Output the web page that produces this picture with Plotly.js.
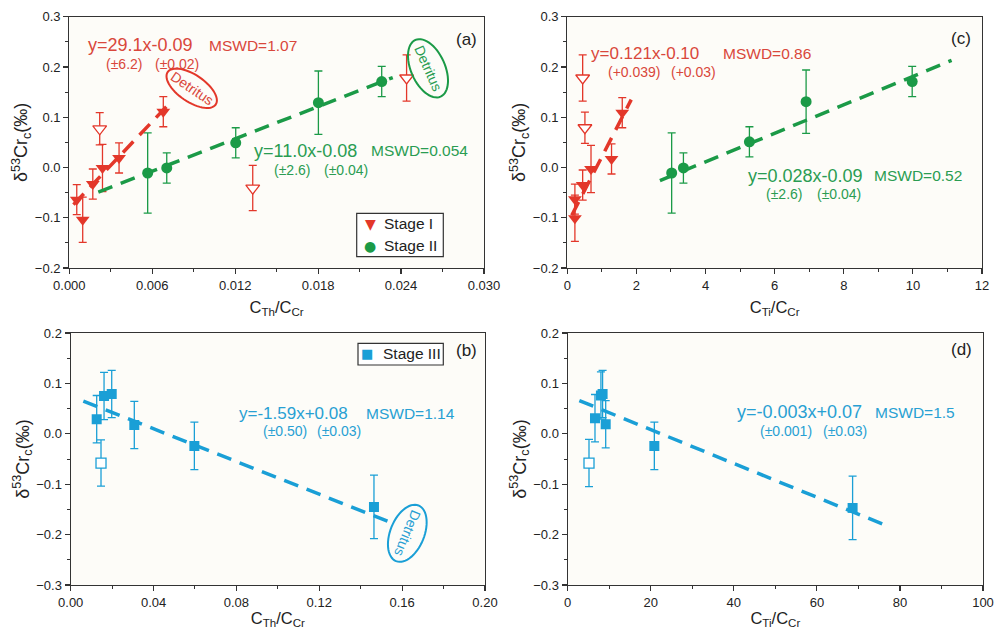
<!DOCTYPE html>
<html>
<head>
<meta charset="utf-8">
<script src="https://cdn.plot.ly/plotly-3.0.1.min.js"></script>
<style>html,body{margin:0;padding:0;background:#fff;}#chart{width:994px;height:629px;}</style>
</head>
<body>
<div id="chart"></div>
<script>
// ---------------- DATA ----------------
// Panel (a): C_Th/C_Cr vs d53Cr
const aStageI_x   = [0.00054, 0.00097, 0.0017, 0.0024, 0.0036, 0.0068];
const aStageI_y   = [-0.064, -0.104, -0.033, -0.001, 0.019, 0.111];
const aStageI_err = [0.030, 0.045, 0.030, 0.047, 0.030, 0.030];
const aStageIopen_x   = [0.0022, 0.01327, 0.0244];
const aStageIopen_y   = [0.077, -0.041, 0.178];
const aStageIopen_err = [0.032, 0.045, 0.046];
const aStageII_x   = [0.00567, 0.00705, 0.01204, 0.01802, 0.0226];
const aStageII_y   = [-0.011, -0.001, 0.049, 0.129, 0.171];
const aStageII_err = [0.080, 0.030, 0.030, 0.063, 0.030];
const aFitI_x  = [0.0003, 0.0073];   const aFitI_y  = [-0.074, 0.129];
const aFitII_x = [0.0021, 0.0234];   const aFitII_y = [-0.049, 0.179];

// Panel (c): C_Ti/C_Cr vs d53Cr
const cStageI_x   = [0.22, 0.22, 0.445, 0.686, 1.28, 1.59];
const cStageI_y   = [-0.101, -0.063, -0.035, -0.003, 0.017, 0.109];
const cStageI_err = [0.046, 0.030, 0.030, 0.047, 0.030, 0.030];
const cStageIopen_x   = [0.445, 0.51];
const cStageIopen_y   = [0.178, 0.079];
const cStageIopen_err = [0.046, 0.031];
const cStageII_x   = [3.02, 3.36, 5.27, 6.91, 9.98];
const cStageII_y   = [-0.011, -0.001, 0.051, 0.131, 0.171];
const cStageII_err = [0.080, 0.030, 0.030, 0.063, 0.030];
const cFitI_x  = [0.13, 1.85];   const cFitI_y  = [-0.095, 0.135];
const cFitII_x = [2.68, 11.12];  const cFitII_y = [-0.026, 0.213];

// Panel (b): C_Th/C_Cr, Stage III
const bStageIII_x   = [0.01255, 0.0161, 0.0198, 0.0307, 0.0597, 0.1464];
const bStageIII_y   = [0.029, 0.075, 0.079, 0.0175, -0.024, -0.145];
const bStageIII_err = [0.047, 0.047, 0.047, 0.047, 0.047, 0.063];
const bStageIIIopen_x = [0.01463]; const bStageIIIopen_y = [-0.058]; const bStageIIIopen_err = [0.046];
const bFit_x = [0.0061, 0.1533]; const bFit_y = [0.065, -0.174];

// Panel (d): C_Ti/C_Cr, Stage III
const dStageIII_x   = [6.57, 8.0, 8.4, 9.15, 20.86, 68.6];
const dStageIII_y   = [0.031, 0.076, 0.079, 0.019, -0.024, -0.147];
const dStageIII_err = [0.047, 0.047, 0.047, 0.047, 0.047, 0.063];
const dStageIIIopen_x = [5.13]; const dStageIIIopen_y = [-0.058]; const dStageIIIopen_err = [0.047];
const dFit_x = [2.8, 76.4]; const dFit_y = [0.066, -0.181];

// Legend labels
const legendA = ['Stage I', 'Stage II'];
const legendB = ['Stage III'];

// ---------------- STYLE ----------------
const W = 994, H = 629;
const FONT = 'Liberation Sans, Arial, sans-serif';
const SYMFONT = 'DejaVu Sans, Liberation Sans, sans-serif';
const RED = '#e3372a', GREEN = '#1b9a47', CYAN = '#1a9fd6';
const RED_T = '#d9473b', GREEN_T = '#2a9c52', CYAN_T = '#28a0d3';
const AX = '#333333';

function px(x){ return x / W; }
function py(y){ return 1 - y / H; }

function pts(name, x, y, err, color, symbol, size, open, xa, ya){
  return {
    type: 'scatter', mode: 'markers', name: name, x: x, y: y,
    xaxis: xa, yaxis: ya, showlegend: false,
    marker: open ? {symbol: symbol, size: size, color: '#ffffff', line: {color: color, width: 1.3}}
                 : {symbol: symbol, size: size, color: color, line: {width: 0}},
    error_y: {type: 'data', array: err, visible: true, color: color, thickness: 1.3, width: 4},
    hoverinfo: 'x+y'
  };
}
function fit(x, y, color, xa, ya){
  return {type: 'scatter', mode: 'lines', x: x, y: y, xaxis: xa, yaxis: ya, showlegend: false,
          line: {color: color, width: 3.5, dash: '15px,9px'}, hoverinfo: 'skip'};
}

const traces = [
  pts(legendA[0], aStageI_x, aStageI_y, aStageI_err, RED, 'triangle-down', 12, false, 'x', 'y'),
  pts(legendA[0] + ' (open)', aStageIopen_x, aStageIopen_y, aStageIopen_err, RED, 'triangle-down', 12, true, 'x', 'y'),
  pts(legendA[1], aStageII_x, aStageII_y, aStageII_err, GREEN, 'circle', 11, false, 'x', 'y'),
  fit(aFitI_x, aFitI_y, RED, 'x', 'y'),
  fit(aFitII_x, aFitII_y, GREEN, 'x', 'y'),

  pts(legendA[0], cStageI_x, cStageI_y, cStageI_err, RED, 'triangle-down', 12, false, 'x2', 'y2'),
  pts(legendA[0] + ' (open)', cStageIopen_x, cStageIopen_y, cStageIopen_err, RED, 'triangle-down', 12, true, 'x2', 'y2'),
  pts(legendA[1], cStageII_x, cStageII_y, cStageII_err, GREEN, 'circle', 11, false, 'x2', 'y2'),
  fit(cFitI_x, cFitI_y, RED, 'x2', 'y2'),
  fit(cFitII_x, cFitII_y, GREEN, 'x2', 'y2'),

  pts(legendB[0], bStageIII_x, bStageIII_y, bStageIII_err, CYAN, 'square', 10, false, 'x3', 'y3'),
  pts(legendB[0] + ' (open)', bStageIIIopen_x, bStageIIIopen_y, bStageIIIopen_err, CYAN, 'square', 10, true, 'x3', 'y3'),
  fit(bFit_x, bFit_y, CYAN, 'x3', 'y3'),

  pts(legendB[0], dStageIII_x, dStageIII_y, dStageIII_err, CYAN, 'square', 10, false, 'x4', 'y4'),
  pts(legendB[0] + ' (open)', dStageIIIopen_x, dStageIIIopen_y, dStageIIIopen_err, CYAN, 'square', 10, true, 'x4', 'y4'),
  fit(dFit_x, dFit_y, CYAN, 'x4', 'y4')
];

const ytitle = 'δ<sup>53</sup>Cr<sub>c</sub>(‰)';
function xAxis(domain, range, dtick, minor, fmt, title, anchor){
  return {domain: domain, range: range, anchor: anchor, dtick: dtick, tick0: 0, tickformat: fmt,
    showgrid: false, zeroline: false, showline: true, mirror: true, linecolor: AX, linewidth: 1.2,
    ticks: 'outside', ticklen: 5, tickwidth: 1.2, tickcolor: AX,
    minor: {ticks: 'outside', ticklen: 3, tickwidth: 1, tickcolor: AX, dtick: minor, tick0: 0, showgrid: false},
    tickfont: {family: FONT, size: 13, color: '#222'},
    title: {text: title, font: {family: FONT, size: 16.5, color: '#222'}, standoff: 9},
    automargin: false, fixedrange: true};
}
function yAxis(domain, range, anchor){
  return {domain: domain, range: range, anchor: anchor, dtick: 0.1, tick0: 0, tickformat: '.1f',
    showgrid: false, zeroline: false, showline: true, mirror: true, linecolor: AX, linewidth: 1.2,
    ticks: 'outside', ticklen: 5, tickwidth: 1.2, tickcolor: AX,
    minor: {ticks: 'outside', ticklen: 3, tickwidth: 1, tickcolor: AX, dtick: 0.05, tick0: 0, showgrid: false},
    tickfont: {family: FONT, size: 13, color: '#222'},
    title: {text: ytitle, font: {family: FONT, size: 18, color: '#222'}, standoff: 2},
    automargin: false, fixedrange: true};
}

const topY = [py(268), py(16.7)], botY = [py(585), py(333)];

// annotations
function txt(t, x, y, color, size, extra){
  return Object.assign({text: t, xref: 'paper', yref: 'paper', x: px(x), y: py(y), xanchor: 'left', yanchor: 'middle',
    showarrow: false, borderpad: 0, font: {family: FONT, size: size, color: color}}, extra || {});
}
function sym(t, x, y, color, size){
  return {text: t, xref: 'paper', yref: 'paper', x: px(x), y: py(y), xanchor: 'center', yanchor: 'middle',
    showarrow: false, borderpad: 0, font: {family: SYMFONT, size: size, color: color}};
}
function detritus(cx, cy, deg, color){
  return {text: 'Detritus', xref: 'paper', yref: 'paper', x: px(cx), y: py(cy), xanchor: 'center', yanchor: 'middle',
    textangle: deg, showarrow: false, font: {family: FONT, size: 14, color: color}};
}
function ellipse(cx, cy, a, b, deg, color){
  const r = deg * Math.PI / 180; let p = '';
  for (let i = 0; i <= 60; i++){
    const t = 2 * Math.PI * i / 60;
    const ex = a * Math.cos(t), ey = b * Math.sin(t);
    const X = cx + ex * Math.cos(r) - ey * Math.sin(r);
    const Y = cy + ex * Math.sin(r) + ey * Math.cos(r);
    p += (i === 0 ? 'M' : 'L') + px(X).toFixed(5) + ',' + py(Y).toFixed(5);
  }
  return {type: 'path', xref: 'paper', yref: 'paper', path: p + 'Z', line: {color: color, width: 2}};
}
function box(x0, y0, x1, y1){
  return {type: 'rect', xref: 'paper', yref: 'paper', x0: px(x0), x1: px(x1), y0: py(y0), y1: py(y1),
    line: {color: '#333', width: 1.2}, fillcolor: '#ffffff', layer: 'above'};
}

const EQ = 18, EQS = 17, MS = 15.5, SUB = 14;
const annotations = [
  // (a)
  txt('y=29.1x-0.09', 86.7, 45.5, RED_T, EQ), txt('MSWD=1.07', 208.3, 45.5, RED_T, MS),
  txt('(±6.2)', 105, 64.2, RED_T, SUB), txt('(±0.02)', 154.3, 64.2, RED_T, SUB),
  txt('y=11.0x-0.08', 253.3, 150.8, GREEN_T, EQ), txt('MSWD=0.054', 370, 150.8, GREEN_T, MS),
  txt('(±2.6)', 273.3, 169.5, GREEN_T, SUB), txt('(±0.04)', 323.3, 169.5, GREEN_T, SUB),
  txt('(a)', 455, 39, '#222', 17),
  detritus(191.7, 88.3, 34, RED_T), detritus(428, 68.3, 66, GREEN_T),
  sym('▼', 370, 223.5, RED, 14), txt(legendA[0], 383.3, 224, '#222', 15.5),
  sym('●', 370, 245.5, GREEN, 14), txt(legendA[1], 383.3, 245.5, '#222', 15.5),
  // (c)
  txt('y=0.121x-0.10', 590, 54, RED_T, EQS), txt('MSWD=0.86', 722.3, 54, RED_T, MS),
  txt('(+0.039)', 606.7, 72, RED_T, SUB), txt('(+0.03)', 670, 72, RED_T, SUB),
  txt('y=0.028x-0.09', 746.7, 175.8, GREEN_T, EQ), txt('MSWD=0.52', 873.3, 175.8, GREEN_T, MS),
  txt('(±2.6)', 765, 194.3, GREEN_T, SUB), txt('(±0.04)', 816, 194.3, GREEN_T, SUB),
  txt('(c)', 950, 38.3, '#222', 17),
  // (b)
  txt('y=-1.59x+0.08', 238.3, 413, CYAN_T, EQS), txt('MSWD=1.14', 365, 413, CYAN_T, MS),
  txt('(±0.50)', 261.7, 431, CYAN_T, SUB), txt('(±0.03)', 316, 431, CYAN_T, SUB),
  txt('(b)', 455, 350.7, '#222', 17),
  detritus(407.3, 533.3, 112, CYAN_T),
  sym('■', 367.3, 353.5, CYAN, 13), txt(legendB[0], 381.7, 353.8, '#222', 15.5),
  // (d)
  txt('y=-0.003x+0.07', 736, 412.3, CYAN_T, EQ), txt('MSWD=1.5', 874, 412.3, CYAN_T, MS),
  txt('(±0.001)', 759.3, 430.8, CYAN_T, SUB), txt('(±0.03)', 821.7, 430.8, CYAN_T, SUB),
  txt('(d)', 950, 350, '#222', 17)
];

const shapes = [
  ellipse(191.7, 88.3, 29, 13.5, 34, RED),
  ellipse(428, 68.3, 31, 17, 66, GREEN),
  ellipse(407.3, 533.3, 30, 17, 112, CYAN),
  box(356.7, 213.3, 443.3, 256.7),
  box(358, 343.3, 443.3, 365)
];

const layout = {
  width: W, height: H, margin: {l: 0, r: 0, t: 0, b: 0},
  paper_bgcolor: '#ffffff', plot_bgcolor: '#fdfcf8',
  font: {family: FONT, color: '#222'},
  xaxis:  xAxis([px(69.3), px(484)], [0, 0.030], 0.006, 0.003, '.3f', 'C<sub>Th</sub>/C<sub>Cr</sub>', 'y'),
  yaxis:  yAxis(topY, [-0.2, 0.3], 'x'),
  xaxis2: xAxis([px(567.3), px(982)], [0, 12], 2, 1, 'd', 'C<sub>Ti</sub>/C<sub>Cr</sub>', 'y2'),
  yaxis2: yAxis(topY, [-0.2, 0.3], 'x2'),
  xaxis3: xAxis([px(70.7), px(485)], [0, 0.20], 0.04, 0.02, '.2f', 'C<sub>Th</sub>/C<sub>Cr</sub>', 'y3'),
  yaxis3: yAxis(botY, [-0.3, 0.2], 'x3'),
  xaxis4: xAxis([px(567.7), px(983)], [0, 100], 20, 10, 'd', 'C<sub>Ti</sub>/C<sub>Cr</sub>', 'y4'),
  yaxis4: yAxis(botY, [-0.3, 0.2], 'x4'),
  annotations: annotations, shapes: shapes, showlegend: false
};

Plotly.newPlot('chart', traces, layout, {staticPlot: true, displayModeBar: false});
</script>
</body>
</html>
